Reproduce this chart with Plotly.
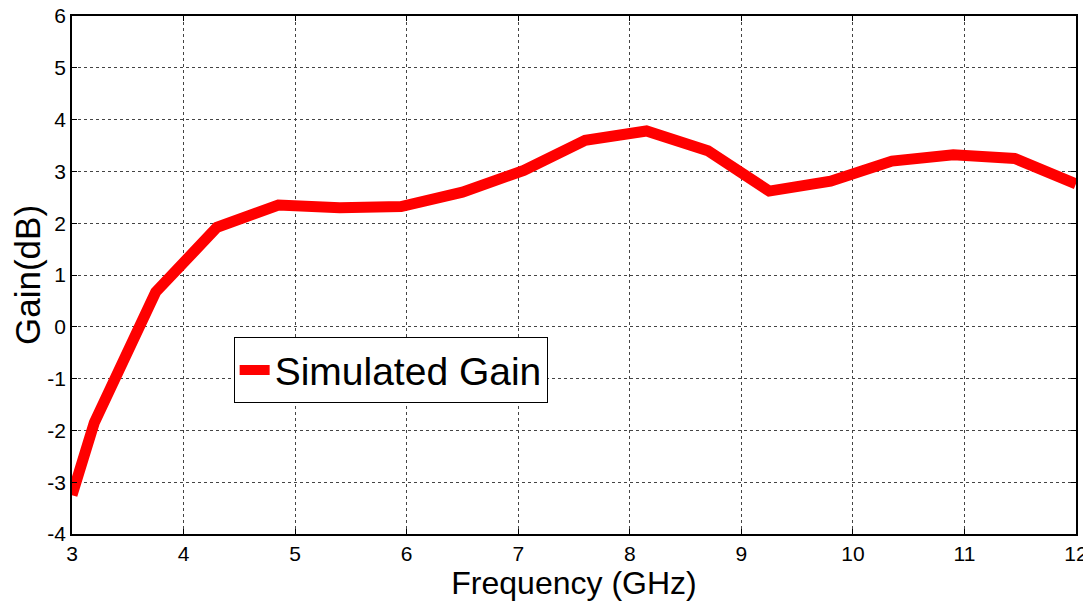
# simulated gain vs frequency, matlab-style line plot
import plotly.graph_objs as go

# data
freq_ghz = [3.0, 3.2, 3.75, 4.3, 4.85, 5.4, 5.95, 6.5, 7.05, 7.6, 8.15,
            8.7, 9.25, 9.8, 10.35, 10.9, 11.45, 12.0]
gain_db = [-3.25, -1.85, 0.67, 1.92, 2.35, 2.30, 2.32, 2.60, 3.02, 3.60, 3.78,
           3.40, 2.62, 2.81, 3.20, 3.32, 3.25, 2.76]
x_ticks = list(range(3, 13))
y_ticks = list(range(-4, 7))
y_labels = [str(v) for v in y_ticks]  # plain hyphen minus like matlab

trace = go.Scatter(x=freq_ghz, y=gain_db, mode='lines', name='Simulated Gain',
                   line=dict(color='#ff0000', width=11))

axis_style = dict(showline=True, linecolor='black', linewidth=1.5, mirror='ticks',
                  ticks='inside', ticklen=5, tickcolor='black', automargin=False,
                  ticklabeloverflow='allow',
                  showgrid=True, gridcolor='#444444', gridwidth=1, griddash='dot',
                  zeroline=False, tickfont=dict(size=21, color='black'))

# page body has an 8px margin, so the figure is made 8px smaller on each side
layout = go.Layout(
    width=1083, height=593,
    margin=dict(l=64, r=15, t=8, b=67),
    paper_bgcolor='white', plot_bgcolor='white',
    font=dict(family='Liberation Sans, Arial', color='black'),
    xaxis=dict(axis_style, range=[3, 12], tickvals=x_ticks,
               title=dict(text='Frequency (GHz)', font=dict(size=32), standoff=2)),
    yaxis=dict(axis_style, range=[-4, 6], tickvals=y_ticks, ticktext=y_labels,
               title=dict(text='Gain(dB)', font=dict(size=35), standoff=4)),
    showlegend=True,
    legend=dict(x=0.161, y=0.38, xanchor='left', yanchor='top',
                bgcolor='white', bordercolor='black', borderwidth=1,
                font=dict(size=39, color='black')),
)

fig = go.Figure(data=[trace], layout=layout)
fig.write_html("out.html")
